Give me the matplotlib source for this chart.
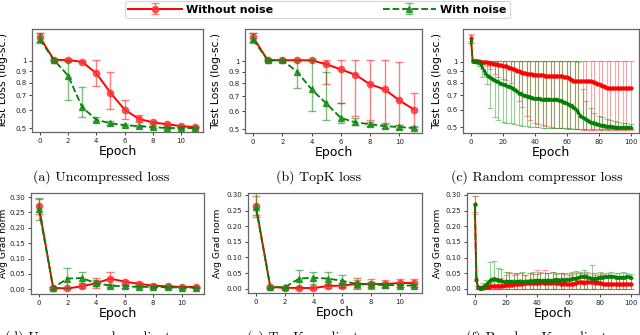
import matplotlib
matplotlib.use("Agg")
import matplotlib.pyplot as plt
from matplotlib.ticker import FixedLocator, FixedFormatter, NullLocator

# ---------------- data ----------------
ep12 = [0, 1, 2, 3, 4, 5, 6, 7, 8, 9, 10, 11]
ep101 = list(range(101))
eb_ep = [0, 2, 5, 7, 10, 12, 15, 17, 20, 22, 25, 27, 30, 32, 35, 37, 40, 42, 45, 47,
         50, 52, 55, 57, 60, 62, 65, 67, 70, 72, 75, 77, 80, 82, 85, 87, 90, 92, 95, 97, 100]

# (a) Uncompressed loss
a_red = [1.28, 1.01, 1.01, 0.99, 0.88, 0.72, 0.605, 0.55, 0.53, 0.52, 0.51, 0.505]
a_red_lo = [1.22, 1.0, 1.0, 0.98, 0.77, 0.61, 0.55, 0.53, 0.52, 0.51, 0.505, 0.5]
a_red_hi = [1.33, 1.02, 1.02, 1.0, 1.01, 0.89, 0.67, 0.57, 0.54, 0.525, 0.515, 0.51]
a_grn = [1.25, 1.01, 0.86, 0.62, 0.545, 0.525, 0.515, 0.51, 0.505, 0.5, 0.5, 0.5]
a_grn_lo = [1.2, 1.0, 0.67, 0.56, 0.535, 0.515, 0.51, 0.505, 0.5, 0.495, 0.495, 0.495]
a_grn_hi = [1.33, 1.02, 1.0, 0.76, 0.56, 0.535, 0.52, 0.515, 0.51, 0.505, 0.505, 0.505]

# (b) TopK loss
b_red = [1.28, 1.01, 1.01, 1.01, 1.01, 0.97, 0.92, 0.87, 0.79, 0.75, 0.67, 0.61]
b_red_lo = [1.22, 1.0, 1.0, 1.0, 1.0, 0.79, 0.65, 0.57, 0.55, 0.53, 0.52, 0.51]
b_red_hi = [1.33, 1.02, 1.02, 1.02, 1.02, 1.01, 1.01, 1.01, 1.01, 1.01, 0.99, 0.72]
b_grn = [1.25, 1.01, 1.01, 0.90, 0.75, 0.65, 0.56, 0.535, 0.525, 0.515, 0.51, 0.505]
b_grn_lo = [1.2, 1.0, 1.0, 0.76, 0.60, 0.55, 0.53, 0.52, 0.515, 0.505, 0.5, 0.5]
b_grn_hi = [1.33, 1.02, 1.02, 1.01, 1.01, 0.90, 0.65, 0.56, 0.535, 0.525, 0.52, 0.515]

# (c) Random compressor loss (101 epochs)
c_red = [1.28,
         1.01, 1.01, 1.01, 1.01, 1.005, 1.0, 1.0, 0.995, 0.99, 0.99,
         0.985, 0.98, 0.98, 0.975, 0.97, 0.97, 0.965, 0.96, 0.96, 0.955,
         0.95, 0.95, 0.94, 0.935, 0.93, 0.925, 0.92, 0.91, 0.90, 0.90,
         0.895, 0.89, 0.89, 0.885, 0.88, 0.88, 0.875, 0.875, 0.87, 0.87,
         0.87, 0.865, 0.865, 0.865, 0.865, 0.86, 0.86, 0.86, 0.86, 0.86,
         0.86, 0.86, 0.86, 0.86, 0.858, 0.855, 0.855, 0.85, 0.85, 0.845,
         0.84, 0.83, 0.82, 0.815, 0.812, 0.81, 0.81, 0.81, 0.81, 0.81,
         0.81, 0.81, 0.81, 0.81, 0.81, 0.808, 0.805, 0.80, 0.79, 0.785,
         0.78, 0.775, 0.77, 0.765, 0.76, 0.758, 0.756, 0.755, 0.755, 0.755,
         0.755, 0.755, 0.755, 0.755, 0.755, 0.755, 0.755, 0.755, 0.755, 0.755]
c_grn = [1.26,
         1.01, 1.01, 1.01, 1.0, 0.99, 0.97, 0.94, 0.91, 0.89, 0.87,
         0.86, 0.85, 0.84, 0.83, 0.82, 0.815, 0.81, 0.80, 0.795, 0.79,
         0.785, 0.78, 0.775, 0.77, 0.765, 0.76, 0.75, 0.74, 0.73, 0.72,
         0.715, 0.71, 0.705, 0.70, 0.698, 0.695, 0.69, 0.685, 0.68, 0.68,
         0.678, 0.678, 0.677, 0.676, 0.675, 0.675, 0.675, 0.675, 0.675, 0.675,
         0.674, 0.673, 0.672, 0.67, 0.668, 0.665, 0.66, 0.655, 0.65, 0.645,
         0.64, 0.635, 0.63, 0.62, 0.61, 0.60, 0.585, 0.57, 0.56, 0.555,
         0.55, 0.545, 0.54, 0.535, 0.53, 0.527, 0.524, 0.52, 0.518, 0.515,
         0.513, 0.511, 0.51, 0.508, 0.507, 0.506, 0.505, 0.504, 0.503, 0.502,
         0.502, 0.501, 0.501, 0.5, 0.5, 0.5, 0.5, 0.5, 0.5, 0.5]
c_red_lo = [1.22, 1.0, 0.99, 0.97, 0.95, 0.92, 0.88, 0.85, 0.83, 0.82, 0.80, 0.76, 0.66, 0.62,
            0.56, 0.54, 0.525, 0.515, 0.51, 0.505, 0.50, 0.498, 0.496, 0.494, 0.492, 0.49,
            0.489, 0.488, 0.487, 0.486, 0.486, 0.485, 0.485, 0.484, 0.484, 0.484, 0.483,
            0.483, 0.483, 0.483, 0.483]
c_red_hi = [1.34] + [1.01] * 40
c_grn_lo = [1.21, 1.0, 0.95, 0.85, 0.79, 0.61, 0.555, 0.54, 0.53, 0.525, 0.52, 0.515, 0.51,
            0.507, 0.505, 0.503, 0.50, 0.499, 0.498, 0.497, 0.496, 0.495, 0.495, 0.494,
            0.493, 0.493, 0.492, 0.492, 0.491, 0.491, 0.49, 0.49, 0.49, 0.49, 0.49, 0.49,
            0.49, 0.49, 0.49, 0.49, 0.49]
c_grn_hi = [1.33, 1.01, 1.01, 1.01, 1.01, 1.01, 1.01, 1.01, 1.01, 1.01, 1.01, 1.01, 1.01,
            1.01, 1.01, 1.01, 1.01, 1.01, 1.01, 1.01, 1.01, 1.01, 1.01, 1.01, 1.01, 1.01,
            1.01, 1.0, 0.75, 0.66, 0.61, 0.58, 0.565, 0.555, 0.545, 0.54, 0.535, 0.53,
            0.525, 0.52, 0.515]

# (d) Uncompressed gradient
d_red = [0.27, 0.005, 0.003, 0.01, 0.02, 0.035, 0.025, 0.018, 0.012, 0.01, 0.008, 0.008]
d_red_lo = [0.245, 0.002, 0.001, 0.005, 0.003, 0.013, 0.018, 0.013, 0.008, 0.006, 0.005, 0.005]
d_red_hi = [0.295, 0.008, 0.005, 0.015, 0.038, 0.058, 0.032, 0.023, 0.016, 0.014, 0.011, 0.011]
d_grn = [0.26, 0.005, 0.035, 0.037, 0.02, 0.012, 0.01, 0.008, 0.008, 0.007, 0.006, 0.006]
d_grn_lo = [0.225, 0.002, 0.003, 0.02, 0.01, 0.008, 0.006, 0.005, 0.005, 0.004, 0.004, 0.004]
d_grn_hi = [0.298, 0.008, 0.068, 0.055, 0.03, 0.016, 0.014, 0.011, 0.011, 0.01, 0.009, 0.009]

# (e) TopK gradient
e_red = [0.265, 0.005, 0.003, 0.002, 0.002, 0.008, 0.01, 0.015, 0.015, 0.015, 0.018, 0.018]
e_red_lo = [0.235, 0.002, 0.001, 0.0, 0.0, 0.002, 0.002, 0.0, 0.0, 0.003, 0.006, 0.006]
e_red_hi = [0.295, 0.008, 0.005, 0.004, 0.004, 0.014, 0.018, 0.035, 0.032, 0.027, 0.03, 0.03]
e_grn = [0.26, 0.006, 0.004, 0.032, 0.035, 0.032, 0.025, 0.015, 0.012, 0.012, 0.01, 0.01]
e_grn_lo = [0.23, 0.003, 0.002, 0.005, 0.015, 0.012, 0.005, 0.003, 0.004, 0.005, 0.004, 0.004]
e_grn_hi = [0.31, 0.009, 0.006, 0.06, 0.053, 0.053, 0.045, 0.027, 0.02, 0.019, 0.016, 0.016]

# (f) Random compressor gradient (101 epochs)
f_red = [0.27,
         0.03, 0.005, 0.002, 0.003, 0.004, 0.005, 0.006, 0.006, 0.007, 0.008,
         0.009, 0.009, 0.01, 0.01, 0.011, 0.011, 0.011, 0.011, 0.012, 0.012,
         0.012, 0.013, 0.014, 0.014, 0.015, 0.015, 0.016, 0.016, 0.017, 0.017,
         0.018, 0.018, 0.018, 0.018, 0.019, 0.018, 0.019, 0.019, 0.018, 0.019,
         0.02, 0.02, 0.021, 0.02, 0.019, 0.02, 0.021, 0.02, 0.02, 0.021,
         0.02, 0.019, 0.02, 0.018, 0.017, 0.017, 0.018, 0.017, 0.016, 0.016,
         0.015, 0.016, 0.017, 0.018, 0.02, 0.021, 0.022, 0.022, 0.021, 0.02,
         0.022, 0.023, 0.022, 0.021, 0.022, 0.021, 0.02, 0.021, 0.02, 0.019,
         0.018, 0.017, 0.017, 0.016, 0.017, 0.016, 0.016, 0.017, 0.016, 0.016,
         0.017, 0.016, 0.016, 0.015, 0.016, 0.016, 0.017, 0.016, 0.016, 0.016]
f_grn = [0.27,
         0.035, 0.005, 0.002, 0.003, 0.006, 0.01, 0.015, 0.02, 0.025, 0.03,
         0.033, 0.034, 0.033, 0.032, 0.03, 0.029, 0.028, 0.027, 0.027, 0.026,
         0.026, 0.025, 0.026, 0.026, 0.027, 0.026, 0.025, 0.026, 0.027, 0.027,
         0.026, 0.025, 0.026, 0.027, 0.027, 0.028, 0.027, 0.028, 0.029, 0.028,
         0.029, 0.029, 0.028, 0.029, 0.028, 0.029, 0.03, 0.029, 0.03, 0.03,
         0.031, 0.03, 0.031, 0.03, 0.031, 0.031, 0.03, 0.031, 0.032, 0.032,
         0.033, 0.034, 0.034, 0.035, 0.036, 0.038, 0.04, 0.041, 0.041, 0.04,
         0.04, 0.039, 0.038, 0.036, 0.035, 0.034, 0.035, 0.036, 0.037, 0.038,
         0.038, 0.039, 0.04, 0.041, 0.041, 0.042, 0.041, 0.04, 0.04, 0.039,
         0.038, 0.037, 0.037, 0.038, 0.038, 0.039, 0.04, 0.04, 0.039, 0.039]
f_red_lo = [0.245] + [0.0] * 40
f_red_hi = [0.295, 0.01, 0.012, 0.015, 0.02, 0.025, 0.03, 0.035, 0.045, 0.055, 0.05, 0.048,
            0.05, 0.045, 0.05, 0.048, 0.06, 0.055, 0.06, 0.05, 0.055, 0.05, 0.05, 0.048,
            0.045, 0.048, 0.05, 0.052, 0.05, 0.048, 0.05, 0.045, 0.048, 0.045, 0.042,
            0.04, 0.042, 0.04, 0.04, 0.038, 0.035]
f_grn_lo = [0.24] + [0.0] * 40
f_grn_hi = [0.295, 0.01, 0.02, 0.03, 0.085, 0.088, 0.068, 0.065, 0.055, 0.05, 0.045, 0.05,
            0.055, 0.045, 0.05, 0.055, 0.048, 0.05, 0.052, 0.05, 0.055, 0.048, 0.05, 0.052,
            0.05, 0.055, 0.058, 0.055, 0.06, 0.055, 0.078, 0.05, 0.055, 0.052, 0.05, 0.055,
            0.052, 0.05, 0.055, 0.05, 0.048]

captions_top = ["(a) Uncompressed loss", "(b) TopK loss", "(c) Random compressor loss"]
captions_bot = ["(d) Uncompressed gradient", "(e) TopK gradient", "(f) Random-K gradient"]
legend_labels = ["Without noise", "With noise"]

RED = "#ff0000"
GRN = "#008000"

fig = plt.figure(figsize=(6.4, 3.35), dpi=100)
W, H = 640.0, 335.0


def add_ax(x0, y0, x1, y1):
    return fig.add_axes([x0 / W, 1 - y1 / H, (x1 - x0) / W, (y1 - y0) / H])


def style(ax, ylabel, ysize, ylab_x):
    for s in ax.spines.values():
        s.set_color("#666666")
        s.set_linewidth(0.9)
    ax.tick_params(labelsize=5, length=2.5, width=0.6, pad=1.5, colors="#222222")
    ax.set_xlabel("Epoch", fontsize=9, labelpad=1)
    ax.set_ylabel(ylabel, fontsize=ysize)
    ax.yaxis.set_label_coords(ylab_x, 0.5)


def err(vals, lo, hi):
    return [[v - l for v, l in zip(vals, lo)], [h - v for v, h in zip(vals, hi)]]


def small_panel(ax, x, r, rlo, rhi, g, glo, ghi):
    hr = ax.errorbar(x, r, yerr=err(r, rlo, rhi), color=RED, ls="-", lw=1.4,
                     marker="o", ms=4.5, mfc=(1, 0.2, 0.2, 0.8), mec=(1, 0.2, 0.2, 0.8),
                     ecolor=(1, 0, 0, 0.5), elinewidth=1.0, capsize=3, capthick=1.0,
                     zorder=3)
    hg = ax.errorbar(x, g, yerr=err(g, glo, ghi), color=GRN, ls="--", lw=1.3,
                     marker="^", ms=4.5, mfc=(0.1, 0.55, 0.1, 0.85), mec=(0.1, 0.55, 0.1, 0.85),
                     ecolor=(0, 0.5, 0, 0.5), elinewidth=1.0, capsize=3, capthick=1.0,
                     zorder=4)
    ax.set_xticks([0, 2, 4, 6, 8, 10])
    return hr, hg


def big_panel(ax, x, r, g, ex, rv, rlo, rhi, gv, glo, ghi):
    ax.errorbar(ex, rv, yerr=err(rv, rlo, rhi), fmt="none", ecolor=(1, 0.1, 0.1, 0.4),
                elinewidth=0.8, capsize=2.5, capthick=0.8, zorder=2)
    ax.errorbar(ex, gv, yerr=err(gv, glo, ghi), fmt="none", ecolor=(0.1, 0.6, 0.1, 0.45),
                elinewidth=0.8, capsize=2.5, capthick=0.8, zorder=2)
    ax.plot(x, r, color=RED, lw=1.4, marker="o", ms=2.0, zorder=3)
    ax.plot(x, g, color=GRN, lw=1.3, ls="--", marker="^", ms=2.0, zorder=4)
    ax.set_xticks([0, 20, 40, 60, 80, 100])


def log_axis(ax, ylim):
    ax.set_yscale("log")
    ax.set_ylim(*ylim)
    ax.yaxis.set_major_locator(FixedLocator([0.5, 0.6, 0.7, 0.8, 0.9, 1.0]))
    ax.yaxis.set_major_formatter(FixedFormatter(["0.5", "0.6", "0.7", "0.8", "0.9", "1"]))
    ax.yaxis.set_minor_locator(NullLocator())


def grad_axis(ax, ylim):
    ax.set_ylim(*ylim)
    ax.set_yticks([0.0, 0.05, 0.10, 0.15, 0.20, 0.25, 0.30])
    ax.set_yticklabels(["0.00", "0.05", "0.10", "0.15", "0.20", "0.25", "0.30"])


def pick(vals, idx):
    return [vals[i] for i in idx]


# top row
axa = add_ax(32, 29, 203, 132)
hr, hg = small_panel(axa, ep12, a_red, a_red_lo, a_red_hi, a_grn, a_grn_lo, a_grn_hi)
log_axis(axa, (0.48, 1.39))
style(axa, "Test Loss (log-sc.)", 7.8, -0.14)

axb = add_ax(245, 29, 422, 133)
small_panel(axb, ep12, b_red, b_red_lo, b_red_hi, b_grn, b_grn_lo, b_grn_hi)
log_axis(axb, (0.48, 1.39))
style(axb, "Test Loss (log-sc.)", 7.8, -0.136)

axc = add_ax(463, 29, 639, 133)
big_panel(axc, ep101, c_red, c_grn, eb_ep, pick(c_red, eb_ep), c_red_lo, c_red_hi,
          pick(c_grn, eb_ep), c_grn_lo, c_grn_hi)
log_axis(axc, (0.47, 1.41))
style(axc, "Test Loss (log-sc.)", 7.8, -0.119)

# bottom row
axd = add_ax(31, 193, 204, 294)
small_panel(axd, ep12, d_red, d_red_lo, d_red_hi, d_grn, d_grn_lo, d_grn_hi)
grad_axis(axd, (-0.015, 0.313))
style(axd, "Avg Grad norm", 6.6, -0.134)

axe = add_ax(248, 193, 422, 293)
small_panel(axe, ep12, e_red, e_red_lo, e_red_hi, e_grn, e_grn_lo, e_grn_hi)
grad_axis(axe, (-0.014, 0.306))
style(axe, "Avg Grad norm", 6.6, -0.149)

axf = add_ax(467, 193, 639, 294)
big_panel(axf, ep101, f_red, f_grn, eb_ep, pick(f_red, eb_ep), f_red_lo, f_red_hi,
          pick(f_grn, eb_ep), f_grn_lo, f_grn_hi)
grad_axis(axf, (-0.016, 0.306))
style(axf, "Avg Grad norm", 6.6, -0.145)

# captions
for txt, xc in zip(captions_top, [101, 319, 537]):
    fig.text(xc / W, 1 - 177 / H, txt, ha="center", va="center",
             fontsize=10, family="cmr10")
for txt, xc in zip(captions_bot, [88, 303, 537]):
    fig.text(xc / W, 1 - 330 / H, txt, ha="center", va="top",
             fontsize=10, family="cmr10")

# legend
leg = fig.legend([hr, hg], legend_labels, loc="lower left",
                 bbox_to_anchor=(125 / W, 1 - 18 / H, 385 / W, 18 / H),
                 mode="expand", ncol=2, borderaxespad=0, frameon=True,
                 prop={"weight": "bold", "size": 8}, handlelength=4.8,
                 handletextpad=0.4, borderpad=0.3, fancybox=True)
leg.get_frame().set_edgecolor("#cccccc")
leg.get_frame().set_linewidth(0.8)

fig.savefig("out.png", dpi=100)
